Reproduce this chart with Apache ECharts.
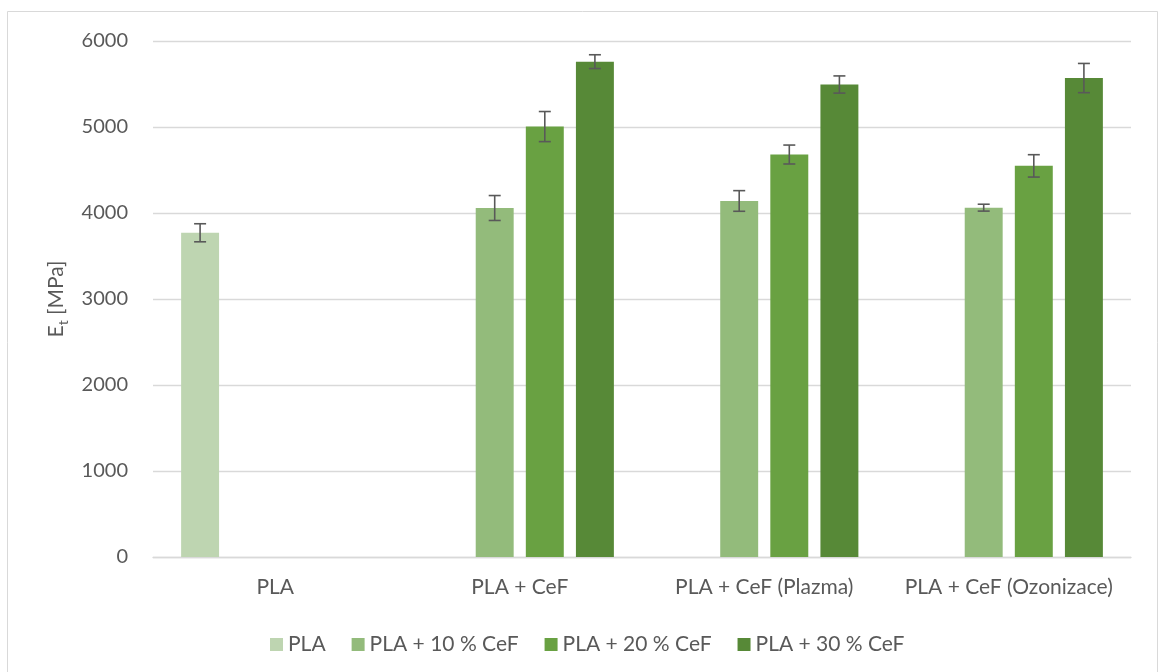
<!DOCTYPE html>
<html>
<head>
<meta charset="utf-8">
<script src="https://cdn.jsdelivr.net/npm/echarts@6/dist/echarts.min.js"></script>
<style>
  html, body { margin: 0; padding: 0; background: #ffffff; }
  #chart { width: 1159px; height: 672px; }
</style>
</head>
<body>
<div id="chart"></div>
<script>
// Tensile modulus of PLA composites with cellulose fibres (CeF)
const categories = ['PLA', 'PLA + CeF', 'PLA + CeF (Plazma)', 'PLA + CeF (Ozonizace)'];
const seriesNames = ['PLA', 'PLA + 10 % CeF', 'PLA + 20 % CeF', 'PLA + 30 % CeF'];

// mean values [MPa]
const plaValues   = [3770, null, null, null];
const cef10Values = [null, 4058, 4140, 4062];
const cef20Values = [null, 5005, 4680, 4548];
const cef30Values = [null, 5760, 5494, 5569];

// standard deviations [MPa]
const plaErr   = [105, null, null, null];
const cef10Err = [null, 145, 120, 40];
const cef20Err = [null, 175, 110, 130];
const cef30Err = [null, 80, 100, 170];

const yTicks = [0, 1000, 2000, 3000, 4000, 5000, 6000];

const colors = ['#BED5B1', '#93BB7B', '#69A142', '#578937'];
const FONT = 'Lato';
const TEXT_COLOR = '#595959';

const BAR_GAP = 0.32;          // gap between bars as a fraction of bar width
const CATEGORY_GAP = 0.23;     // gap between groups as a fraction of band width
const N_SERIES = 4;

const valueSets = [plaValues, cef10Values, cef20Values, cef30Values];
const errSets = [plaErr, cef10Err, cef20Err, cef30Err];

// error bar renderer: places the whisker over the matching bar slot
function makeErrorRenderer(seriesIndex) {
  return function (params, api) {
    const cat = api.value(0);
    const lo = api.value(1);
    const hi = api.value(2);
    const band = api.size([1, 0])[0];
    const groupWidth = band * (1 - CATEGORY_GAP);
    const barW = groupWidth / (N_SERIES + (N_SERIES - 1) * BAR_GAP);
    const offset = -groupWidth / 2 + barW / 2 + seriesIndex * barW * (1 + BAR_GAP);
    const pLo = api.coord([cat, lo]);
    const pHi = api.coord([cat, hi]);
    const x = pLo[0] + offset;
    const cap = 6;
    const style = { stroke: '#595959', lineWidth: 1.6 };
    return {
      type: 'group',
      children: [
        { type: 'line', shape: { x1: x, y1: pLo[1], x2: x, y2: pHi[1] }, style: style },
        { type: 'line', shape: { x1: x - cap, y1: pHi[1], x2: x + cap, y2: pHi[1] }, style: style },
        { type: 'line', shape: { x1: x - cap, y1: pLo[1], x2: x + cap, y2: pLo[1] }, style: style }
      ]
    };
  };
}

const barSeries = seriesNames.map(function (name, i) {
  return {
    name: name,
    type: 'bar',
    data: valueSets[i],
    barGap: (BAR_GAP * 100) + '%',
    barCategoryGap: (CATEGORY_GAP * 100) + '%',
    itemStyle: { color: colors[i] },
    z: 2
  };
});

const errorSeries = seriesNames.map(function (name, i) {
  const data = [];
  valueSets[i].forEach(function (v, c) {
    if (v != null && errSets[i][c] != null) {
      data.push([c, v - errSets[i][c], v + errSets[i][c]]);
    }
  });
  return {
    type: 'custom',
    renderItem: makeErrorRenderer(i),
    data: data,
    encode: { x: 0, y: [1, 2] },
    z: 5,
    silent: true,
    tooltip: { show: false }
  };
});

const chart = echarts.init(document.getElementById('chart'), null, { renderer: 'canvas' });
chart.setOption({
  backgroundColor: '#ffffff',
  animation: false,
  textStyle: { fontFamily: FONT, color: TEXT_COLOR },
  graphic: [{
    type: 'rect',
    shape: { x: 7.5, y: 11.5, width: 1150, height: 700 },
    style: { fill: 'none', stroke: '#D9D9D9', lineWidth: 1 },
    silent: true,
    z: 0
  }],
  grid: { left: 153, right: 28, top: 41, bottom: 115, containLabel: false },
  legend: {
    data: seriesNames,
    left: 265,
    top: 629,
    itemWidth: 13,
    itemHeight: 13,
    itemGap: 26,
    icon: 'rect',
    textStyle: { fontFamily: FONT, fontSize: 21, color: TEXT_COLOR }
  },
  xAxis: {
    type: 'category',
    data: categories,
    axisLine: { lineStyle: { color: '#D9D9D9', width: 1.3 } },
    axisTick: { show: false },
    axisLabel: { interval: 0, fontFamily: FONT, fontSize: 21, color: TEXT_COLOR, margin: 20 }
  },
  yAxis: {
    type: 'value',
    min: yTicks[0],
    max: yTicks[yTicks.length - 1],
    interval: yTicks[1] - yTicks[0],
    name: '{e|E}{t|t}{e| [MPa]}',
    nameLocation: 'middle',
    nameGap: 62,
    nameTextStyle: {
      rich: {
        e: { fontFamily: FONT, fontSize: 21, color: TEXT_COLOR, lineHeight: 28, verticalAlign: 'middle' },
        t: { fontFamily: FONT, fontSize: 14, color: TEXT_COLOR, lineHeight: 28, verticalAlign: 'bottom' }
      }
    },
    axisLine: { show: false },
    axisTick: { show: false },
    axisLabel: {
      fontFamily: FONT, fontSize: 20, color: TEXT_COLOR, margin: 25,
      formatter: function (v) { return String(v); }
    },
    splitLine: { lineStyle: { color: '#D9D9D9', width: 1.3 } }
  },
  series: barSeries.concat(errorSeries)
});
</script>
</body>
</html>
